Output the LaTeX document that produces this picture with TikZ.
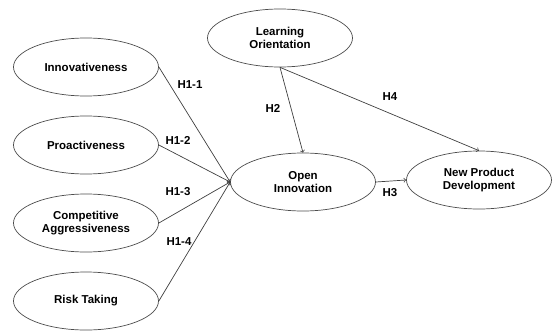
\documentclass[tikz,border=0pt]{standalone}
\usepackage{fontspec}
\setmainfont{Liberation Sans}
\usetikzlibrary{shapes.geometric}

\begin{document}
\begin{tikzpicture}[x=0.03cm, y=-0.03cm,
  construct/.style={ellipse, draw=black!70, line width=0.6pt, minimum width=4.35cm,
    minimum height=1.74cm, inner sep=0pt, align=center, font=\bfseries\fontsize{9.8}{11.5}\selectfont},
  hyp/.style={font=\bfseries\fontsize{9.8}{11.5}\selectfont},
  path/.style={->, black!75, line width=0.6pt}]
\useasboundingbox (0,0) rectangle (553,331);
\node [construct] (inn) at (86,67) {Innovativeness};
\node [construct] (pro) at (86,145) {Proactiveness};
\node [construct] (com) at (86,223) {Competitive\\Aggressiveness};
\node [construct] (risk) at (86,301) {Risk Taking};
\node [construct] (lo) at (280,38) {Learning\\Orientation};
\node [construct] (oi) at (303,182) {Open\\Innovation};
\node [construct] (npd) at (479,180) {New Product\\Development};
% hypotheses
\node [hyp] (h11) at (190,85) {H1-1};
\node [hyp] (h12) at (178,140) {H1-2};
\node [hyp] (h13) at (178,192) {H1-3};
\node [hyp] (h14) at (179,242) {H1-4};
\node [hyp] (h2) at (273,108) {H2};
\node [hyp] (h4) at (390,97) {H4};
\node [hyp] (h3) at (390,193) {H3};
\draw [path] (inn.east) -- (oi.west);
\draw [path] (pro.east) -- (oi.west);
\draw [path] (com.east) -- (oi.west);
\draw [path] (risk.east) -- (oi.west);
\draw [path] (lo.south) -- (oi.north);
\draw [path] (lo.south) -- (npd.north);
\draw [path] (oi.east) -- (npd.west);
\end{tikzpicture}
\end{document}
